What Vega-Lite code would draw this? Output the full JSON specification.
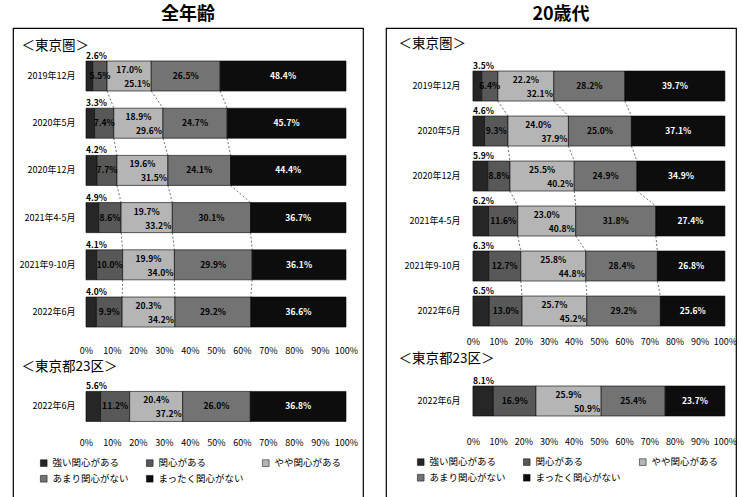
{
  "$schema": "https://vega.github.io/schema/vega-lite/v6.json",
  "background": "white",
  "padding": {"left": 12, "top": 5, "right": 5, "bottom": 0},
  "spacing": 21,
  "config": {
    "font": "Noto Sans CJK JP",
    "view": {"stroke": "#000", "strokeWidth": 1.2},
    "title": {"fontSize": 18, "fontWeight": "bold", "color": "#000", "offset": 0, "anchor": "middle"}
  },
  "datasets": {
    "d": [
      {"panel": "全年齢", "key": "A1|2019年12月", "強い関心がある": 2.6, "関心がある": 5.5, "やや関心がある": 17.0, "あまり関心がない": 26.5, "まったく関心がない": 48.4},
      {"panel": "全年齢", "key": "A2|2020年5月", "強い関心がある": 3.3, "関心がある": 7.4, "やや関心がある": 18.9, "あまり関心がない": 24.7, "まったく関心がない": 45.7},
      {"panel": "全年齢", "key": "A3|2020年12月", "強い関心がある": 4.2, "関心がある": 7.7, "やや関心がある": 19.6, "あまり関心がない": 24.1, "まったく関心がない": 44.4},
      {"panel": "全年齢", "key": "A4|2021年4-5月", "強い関心がある": 4.9, "関心がある": 8.6, "やや関心がある": 19.7, "あまり関心がない": 30.1, "まったく関心がない": 36.7},
      {"panel": "全年齢", "key": "A5|2021年9-10月", "強い関心がある": 4.1, "関心がある": 10.0, "やや関心がある": 19.9, "あまり関心がない": 29.9, "まったく関心がない": 36.1},
      {"panel": "全年齢", "key": "A6|2022年6月", "強い関心がある": 4.0, "関心がある": 9.9, "やや関心がある": 20.3, "あまり関心がない": 29.2, "まったく関心がない": 36.6},
      {"panel": "全年齢", "key": "B|2022年6月", "強い関心がある": 5.6, "関心がある": 11.2, "やや関心がある": 20.4, "あまり関心がない": 26.0, "まったく関心がない": 36.8},
      {"panel": "20歳代", "key": "A1|2019年12月", "強い関心がある": 3.5, "関心がある": 6.4, "やや関心がある": 22.2, "あまり関心がない": 28.2, "まったく関心がない": 39.7},
      {"panel": "20歳代", "key": "A2|2020年5月", "強い関心がある": 4.6, "関心がある": 9.3, "やや関心がある": 24.0, "あまり関心がない": 25.0, "まったく関心がない": 37.1},
      {"panel": "20歳代", "key": "A3|2020年12月", "強い関心がある": 5.9, "関心がある": 8.8, "やや関心がある": 25.5, "あまり関心がない": 24.9, "まったく関心がない": 34.9},
      {"panel": "20歳代", "key": "A4|2021年4-5月", "強い関心がある": 6.2, "関心がある": 11.6, "やや関心がある": 23.0, "あまり関心がない": 31.8, "まったく関心がない": 27.4},
      {"panel": "20歳代", "key": "A5|2021年9-10月", "強い関心がある": 6.3, "関心がある": 12.7, "やや関心がある": 25.8, "あまり関心がない": 28.4, "まったく関心がない": 26.8},
      {"panel": "20歳代", "key": "A6|2022年6月", "強い関心がある": 6.5, "関心がある": 13.0, "やや関心がある": 25.7, "あまり関心がない": 29.2, "まったく関心がない": 25.6},
      {"panel": "20歳代", "key": "B|2022年6月", "強い関心がある": 8.1, "関心がある": 16.9, "やや関心がある": 25.9, "あまり関心がない": 25.4, "まったく関心がない": 23.7}
    ]
  },
  "resolve": {"scale": {"color": "independent"}, "legend": {"color": "independent"}},
  "hconcat": [
    {
      "title": {"text": "全年齢"},
      "width": 350,
      "height": 478,
      "data": {"name": "d"},
      "transform": [
        {"filter": "datum.panel == '全年齢'"},
        {"fold": ["強い関心がある", "関心がある", "やや関心がある", "あまり関心がない", "まったく関心がない"], "as": ["cat", "value"]},
        {"calculate": "indexof(['強い関心がある','関心がある','やや関心がある','あまり関心がない','まったく関心がない'], datum.cat)", "as": "ord"},
        {"stack": "value", "groupby": ["key"], "sort": [{"field": "ord"}], "as": ["x0", "x1"]},
        {"calculate": "(datum.x0 + datum.x1) / 2", "as": "xm"},
        {"calculate": "format(datum.value, '.1f') + '%'", "as": "lab"},
        {"calculate": "format(datum.x1, '.1f') + '%'", "as": "cum"}
      ],
      "encoding": {
        "y": {"field": "key", "type": "nominal", "axis": null,
              "scale": {"type": "band", "domain": ["A1|2019年12月", "A2|2020年5月", "A3|2020年12月", "A4|2021年4-5月", "A5|2021年9-10月", "A6|2022年6月", "gap", "B|2022年6月", "zpad"], "paddingInner": 0.364, "paddingOuter": 0.745, "align": 0.469}}
      },
      "resolve": {"axis": {"x": "independent", "y": "independent"}},
      "layer": [
        {
          "mark": {"type": "bar", "stroke": "#000", "strokeWidth": 0.6},
          "encoding": {
            "x": {"field": "x0", "type": "quantitative",
                  "scale": {"domain": [-28.08, 106.54], "nice": false, "zero": false},
                  "axis": {"orient": "bottom", "offset": -68, "values": [0, 10, 20, 30, 40, 50, 60, 70, 80, 90, 100], "labelExpr": "datum.value + '%'", "domain": false, "ticks": false, "tickSize": 0, "grid": false, "labelPadding": 0, "title": null, "labelFontSize": 9, "labelFlush": false, "labelOverlap": false, "labelColor": "#000"}},
            "x2": {"field": "x1"},
            "y": {"field": "key", "type": "nominal",
                  "scale": {"type": "band", "domain": ["A1|2019年12月", "A2|2020年5月", "A3|2020年12月", "A4|2021年4-5月", "A5|2021年9-10月", "A6|2022年6月", "gap", "B|2022年6月", "zpad"], "paddingInner": 0.364, "paddingOuter": 0.745, "align": 0.469},
                  "axis": {"orient": "left", "offset": -62, "labelExpr": "indexof(datum.value, '|') >= 0 ? split(datum.value, '|')[1] : ''", "domain": false, "ticks": false, "tickSize": 0, "grid": false, "labelPadding": 0, "title": null, "labelFontSize": 9, "labelOverlap": false, "labelBound": false, "labelColor": "#000"}},
            "color": {"field": "cat", "type": "nominal",
                      "scale": {"domain": ["強い関心がある", "関心がある", "やや関心がある", "あまり関心がない", "まったく関心がない"], "range": ["#262626", "#585858", "#b5b5b5", "#737373", "#0d0d0d"]},
                      "legend": {"title": null, "orient": "none", "direction": "horizontal", "legendX": 26, "legendY": 430, "columns": 3, "symbolType": "square", "symbolSize": 45, "labelFontSize": 9.5, "columnPadding": 16, "rowPadding": 5, "symbolStrokeColor": "#000", "symbolStrokeWidth": 0.5, "labelLimit": 200, "labelColor": "#000"}}
          }
        },
        {
          "transform": [{"filter": "datum.ord == 4"}],
          "mark": {"type": "text", "fontSize": 8.5, "fontWeight": "bold", "color": "#fff"},
          "encoding": {
            "x": {"field": "xm", "type": "quantitative",
                  "scale": {"domain": [-28.08, 106.54], "nice": false, "zero": false},
                  "axis": {"orient": "top", "offset": -327, "values": [0, 10, 20, 30, 40, 50, 60, 70, 80, 90, 100], "labelExpr": "datum.value + '%'", "domain": false, "ticks": false, "tickSize": 0, "grid": false, "labelPadding": 0, "title": null, "labelFontSize": 9, "labelFlush": false, "labelOverlap": false, "labelColor": "#000"}},
            "y": {"field": "key", "type": "nominal",
                  "scale": {"type": "band", "domain": ["A1|2019年12月", "A2|2020年5月", "A3|2020年12月", "A4|2021年4-5月", "A5|2021年9-10月", "A6|2022年6月", "gap", "B|2022年6月", "zpad"], "paddingInner": 0.364, "paddingOuter": 0.745, "align": 0.469},
                  "axis": {"orient": "right", "offset": -342, "labelAlign": "left", "labelExpr": "datum.value == 'A1|2019年12月' ? '＜東京圏＞' : (datum.value == 'B|2022年6月' ? '＜東京都23区＞' : '')", "labelOffset": {"condition": {"test": "datum.value == 'A1|2019年12月'", "value": -30}, "value": -39}, "domain": false, "ticks": false, "tickSize": 0, "grid": false, "labelPadding": 0, "title": null, "labelFontSize": 13.5, "labelOverlap": false, "labelBound": false, "labelColor": "#000"}},
            "text": {"field": "lab"}
          }
        },
        {
          "transform": [{"filter": "datum.ord == 0"}],
          "mark": {"type": "text", "fontSize": 8.5, "fontWeight": "bold", "color": "#000", "align": "left", "dy": -20},
          "encoding": {
            "x": {"field": "x0", "type": "quantitative", "scale": {"domain": [-28.08, 106.54], "nice": false, "zero": false}, "axis": null},
            "text": {"field": "lab"}
          }
        },
        {
          "transform": [{"filter": "datum.ord == 1 || datum.ord == 3"}],
          "mark": {"type": "text", "fontSize": 8.5, "fontWeight": "bold", "color": "#000"},
          "encoding": {
            "x": {"field": "xm", "type": "quantitative", "scale": {"domain": [-28.08, 106.54], "nice": false, "zero": false}, "axis": null},
            "text": {"field": "lab"}
          }
        },
        {
          "transform": [{"filter": "datum.ord == 2"}],
          "mark": {"type": "text", "fontSize": 8.5, "fontWeight": "bold", "color": "#000", "dy": -6},
          "encoding": {
            "x": {"field": "xm", "type": "quantitative", "scale": {"domain": [-28.08, 106.54], "nice": false, "zero": false}, "axis": null},
            "text": {"field": "lab"}
          }
        },
        {
          "transform": [{"filter": "datum.ord == 2"}],
          "mark": {"type": "text", "fontSize": 8.5, "fontWeight": "bold", "color": "#000", "align": "right", "dx": -1, "dy": 8},
          "encoding": {
            "x": {"field": "x1", "type": "quantitative", "scale": {"domain": [-28.08, 106.54], "nice": false, "zero": false}, "axis": null},
            "text": {"field": "cum"}
          }
        },
        {
          "transform": [
            {"filter": "datum.ord >= 1 && datum.ord <= 3 && indexof(datum.key, 'A') == 0"},
            {"window": [{"op": "lead", "field": "x1", "as": "nx"}, {"op": "lead", "field": "key", "as": "nkey"}], "groupby": ["cat"], "sort": [{"field": "key", "order": "ascending"}]},
            {"filter": "datum.nkey != null"}
          ],
          "mark": {"type": "rule", "strokeDash": [2, 2], "strokeWidth": 0.7, "color": "#333"},
          "encoding": {
            "x": {"field": "x1", "type": "quantitative", "scale": {"domain": [-28.08, 106.54], "nice": false, "zero": false}, "axis": null},
            "x2": {"field": "nx"},
            "y": {"field": "key", "type": "nominal", "bandPosition": 1, "axis": null,
                  "scale": {"type": "band", "domain": ["A1|2019年12月", "A2|2020年5月", "A3|2020年12月", "A4|2021年4-5月", "A5|2021年9-10月", "A6|2022年6月", "gap", "B|2022年6月", "zpad"], "paddingInner": 0.364, "paddingOuter": 0.745, "align": 0.469}},
            "y2": {"field": "nkey", "bandPosition": 0}
          }
        }
      ]
    },
    {
      "title": {"text": "20歳代"},
      "width": 350,
      "height": 478,
      "data": {"name": "d"},
      "transform": [
        {"filter": "datum.panel == '20歳代'"},
        {"fold": ["強い関心がある", "関心がある", "やや関心がある", "あまり関心がない", "まったく関心がない"], "as": ["cat", "value"]},
        {"calculate": "indexof(['強い関心がある','関心がある','やや関心がある','あまり関心がない','まったく関心がない'], datum.cat)", "as": "ord"},
        {"stack": "value", "groupby": ["key"], "sort": [{"field": "ord"}], "as": ["x0", "x1"]},
        {"calculate": "(datum.x0 + datum.x1) / 2", "as": "xm"},
        {"calculate": "format(datum.value, '.1f') + '%'", "as": "lab"},
        {"calculate": "format(datum.x1, '.1f') + '%'", "as": "cum"}
      ],
      "encoding": {
        "y": {"field": "key", "type": "nominal", "axis": null,
              "scale": {"type": "band", "domain": ["A1|2019年12月", "A2|2020年5月", "A3|2020年12月", "A4|2021年4-5月", "A5|2021年9-10月", "A6|2022年6月", "gap", "B|2022年6月", "zpad"], "paddingInner": 0.333, "paddingOuter": 0.978, "align": 0.489}}
      },
      "resolve": {"axis": {"x": "independent", "y": "independent"}},
      "layer": [
        {
          "mark": {"type": "bar", "stroke": "#000", "strokeWidth": 0.6},
          "encoding": {
            "x": {"field": "x0", "type": "quantitative",
                  "scale": {"domain": [-34.5, 104.4], "nice": false, "zero": false},
                  "axis": {"orient": "bottom", "offset": -69, "values": [0, 10, 20, 30, 40, 50, 60, 70, 80, 90, 100], "labelExpr": "datum.value + '%'", "domain": false, "ticks": false, "tickSize": 0, "grid": false, "labelPadding": 0, "title": null, "labelFontSize": 9, "labelFlush": false, "labelOverlap": false, "labelColor": "#000"}},
            "x2": {"field": "x1"},
            "y": {"field": "key", "type": "nominal",
                  "scale": {"type": "band", "domain": ["A1|2019年12月", "A2|2020年5月", "A3|2020年12月", "A4|2021年4-5月", "A5|2021年9-10月", "A6|2022年6月", "gap", "B|2022年6月", "zpad"], "paddingInner": 0.333, "paddingOuter": 0.978, "align": 0.489},
                  "axis": {"orient": "left", "offset": -74, "labelExpr": "indexof(datum.value, '|') >= 0 ? split(datum.value, '|')[1] : ''", "domain": false, "ticks": false, "tickSize": 0, "grid": false, "labelPadding": 0, "title": null, "labelFontSize": 9, "labelOverlap": false, "labelBound": false, "labelColor": "#000"}},
            "color": {"field": "cat", "type": "nominal",
                      "scale": {"domain": ["強い関心がある", "関心がある", "やや関心がある", "あまり関心がない", "まったく関心がない"], "range": ["#262626", "#585858", "#b5b5b5", "#737373", "#0d0d0d"]},
                      "legend": {"title": null, "orient": "none", "direction": "horizontal", "legendX": 30, "legendY": 429, "columns": 3, "symbolType": "square", "symbolSize": 45, "labelFontSize": 9.5, "columnPadding": 16, "rowPadding": 5, "symbolStrokeColor": "#000", "symbolStrokeWidth": 0.5, "labelLimit": 200, "labelColor": "#000"}}
          }
        },
        {
          "transform": [{"filter": "datum.ord == 4"}],
          "mark": {"type": "text", "fontSize": 8.5, "fontWeight": "bold", "color": "#fff"},
          "encoding": {
            "x": {"field": "xm", "type": "quantitative",
                  "scale": {"domain": [-34.5, 104.4], "nice": false, "zero": false},
                  "axis": {"orient": "top", "offset": -318, "values": [0, 10, 20, 30, 40, 50, 60, 70, 80, 90, 100], "labelExpr": "datum.value + '%'", "domain": false, "ticks": false, "tickSize": 0, "grid": false, "labelPadding": 0, "title": null, "labelFontSize": 9, "labelFlush": false, "labelOverlap": false, "labelColor": "#000"}},
            "y": {"field": "key", "type": "nominal",
                  "scale": {"type": "band", "domain": ["A1|2019年12月", "A2|2020年5月", "A3|2020年12月", "A4|2021年4-5月", "A5|2021年9-10月", "A6|2022年6月", "gap", "B|2022年6月", "zpad"], "paddingInner": 0.333, "paddingOuter": 0.978, "align": 0.489},
                  "axis": {"orient": "right", "offset": -338, "labelAlign": "left", "labelExpr": "datum.value == 'A1|2019年12月' ? '＜東京圏＞' : (datum.value == 'B|2022年6月' ? '＜東京都23区＞' : '')", "labelOffset": {"condition": {"test": "datum.value == 'A1|2019年12月'", "value": -42}, "value": -42}, "domain": false, "ticks": false, "tickSize": 0, "grid": false, "labelPadding": 0, "title": null, "labelFontSize": 13.5, "labelOverlap": false, "labelBound": false, "labelColor": "#000"}},
            "text": {"field": "lab"}
          }
        },
        {
          "transform": [{"filter": "datum.ord == 0"}],
          "mark": {"type": "text", "fontSize": 8.5, "fontWeight": "bold", "color": "#000", "align": "left", "dy": -20},
          "encoding": {
            "x": {"field": "x0", "type": "quantitative", "scale": {"domain": [-34.5, 104.4], "nice": false, "zero": false}, "axis": null},
            "text": {"field": "lab"}
          }
        },
        {
          "transform": [{"filter": "datum.ord == 1 || datum.ord == 3"}],
          "mark": {"type": "text", "fontSize": 8.5, "fontWeight": "bold", "color": "#000"},
          "encoding": {
            "x": {"field": "xm", "type": "quantitative", "scale": {"domain": [-34.5, 104.4], "nice": false, "zero": false}, "axis": null},
            "text": {"field": "lab"}
          }
        },
        {
          "transform": [{"filter": "datum.ord == 2"}],
          "mark": {"type": "text", "fontSize": 8.5, "fontWeight": "bold", "color": "#000", "dy": -6},
          "encoding": {
            "x": {"field": "xm", "type": "quantitative", "scale": {"domain": [-34.5, 104.4], "nice": false, "zero": false}, "axis": null},
            "text": {"field": "lab"}
          }
        },
        {
          "transform": [{"filter": "datum.ord == 2"}],
          "mark": {"type": "text", "fontSize": 8.5, "fontWeight": "bold", "color": "#000", "align": "right", "dx": -1, "dy": 8},
          "encoding": {
            "x": {"field": "x1", "type": "quantitative", "scale": {"domain": [-34.5, 104.4], "nice": false, "zero": false}, "axis": null},
            "text": {"field": "cum"}
          }
        },
        {
          "transform": [
            {"filter": "datum.ord >= 1 && datum.ord <= 3 && indexof(datum.key, 'A') == 0"},
            {"window": [{"op": "lead", "field": "x1", "as": "nx"}, {"op": "lead", "field": "key", "as": "nkey"}], "groupby": ["cat"], "sort": [{"field": "key", "order": "ascending"}]},
            {"filter": "datum.nkey != null"}
          ],
          "mark": {"type": "rule", "strokeDash": [2, 2], "strokeWidth": 0.7, "color": "#333"},
          "encoding": {
            "x": {"field": "x1", "type": "quantitative", "scale": {"domain": [-34.5, 104.4], "nice": false, "zero": false}, "axis": null},
            "x2": {"field": "nx"},
            "y": {"field": "key", "type": "nominal", "bandPosition": 1, "axis": null,
                  "scale": {"type": "band", "domain": ["A1|2019年12月", "A2|2020年5月", "A3|2020年12月", "A4|2021年4-5月", "A5|2021年9-10月", "A6|2022年6月", "gap", "B|2022年6月", "zpad"], "paddingInner": 0.333, "paddingOuter": 0.978, "align": 0.489}},
            "y2": {"field": "nkey", "bandPosition": 0}
          }
        }
      ]
    }
  ]
}
